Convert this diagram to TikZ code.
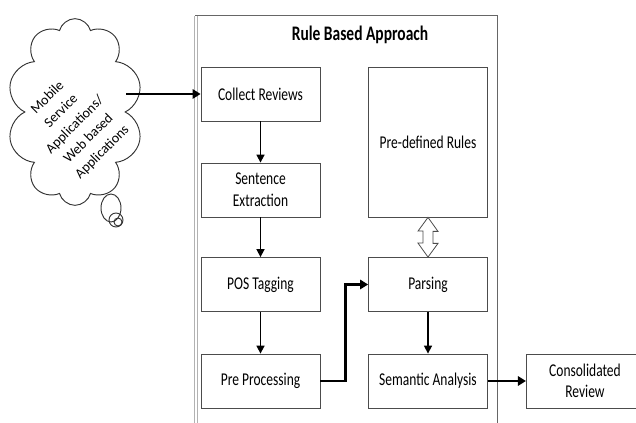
\documentclass[tikz,border=0pt]{standalone}
\usepackage{fontspec}
\setmainfont[FakeStretch=0.75]{Carlito}
\newfontfamily\cloudfont{Carlito}
\usepackage{tikz}
\usetikzlibrary{arrows.meta,shapes.symbols,calc}
\tikzset{
  box/.style={draw=black!70,line width=0.6pt,minimum width=89.25pt,minimum height=40.5pt,align=center,inner sep=2pt,font=\fontsize{13.5}{16.2}\selectfont},
  flow/.style={line width=1.2pt,-{Triangle[length=6pt,width=6pt]}},
  bigflow/.style={line width=2.2pt,-{Triangle[length=6pt,width=7pt]}},
  frame/.style={draw=black!60,line width=0.7pt},
  puff/.style={draw=black!80,line width=0.7pt},
  link/.style={draw=black!70,line width=0.6pt,fill=white,line join=miter}
}

\begin{document}
\begin{tikzpicture}[x=0.75pt,y=-0.75pt]
\useasboundingbox (0,0) rectangle (636,423);
% frame of the approach
\draw[frame] (195,423) -- (195,15) -- (497,15) -- (497,423);
\draw[draw=gray!60,line width=0.6pt,double=white,double distance=2pt] (196,423) -- (196,16);
\node[font=\bfseries\fontsize{15.5}{18}\selectfont] (title) at (360,35) {Rule Based Approach};
% source cloud
\node[cloud,puff,cloud puffs=10,minimum width=102pt,minimum height=140pt] (apps) at (75,112) {};
\node[rotate=45,align=center,font=\cloudfont\fontsize{10.5}{14.5}\selectfont] (appstext) at (75,125) {Mobile\\Service\\Applications/\\Web based\\Applications};
\draw[puff] (111,208) ellipse [x radius=10, y radius=14];
\draw[puff] (116,220) circle [radius=7];
\draw[puff] (118,222) circle [radius=4];
% steps
\node[box] (collect) at (260.5,94) {Collect Reviews};
\node[box] (sent) at (260.5,190) {Sentence\\Extraction};
\node[box] (pos) at (260.5,284.5) {POS Tagging};
\node[box] (prep) at (260.5,381) {Pre Processing};
\node[box,minimum height=112.5pt] (rules) at (428,142) {Pre-defined Rules};
\node[box] (parse) at (428,284.5) {Parsing};
\node[box] (sem) at (428,381) {Semantic Analysis};
\node[box,minimum width=88pt] (cons) at (585,381) {Consolidated\\Review};
% connectors
\draw[link] (rules.south) -- ++(10,14) -- ++(-5,0) -- ++(0,12) -- ++(5,0) -- (parse.north)
  -- ++(-10,-14) -- ++(5,0) -- ++(0,-12) -- ++(-5,0) -- cycle;
\draw[bigflow] (apps.east |- collect.west) -- (collect.west);
\draw[flow] (collect) -- (sent);
\draw[flow] (sent) -- (pos);
\draw[flow] (pos) -- (prep);
\draw[bigflow] (prep.east) -- ++(25,0) |- (parse.west);
\draw[flow] (parse) -- (sem);
\draw[bigflow] (sem) -- (cons);
\end{tikzpicture}
\end{document}
